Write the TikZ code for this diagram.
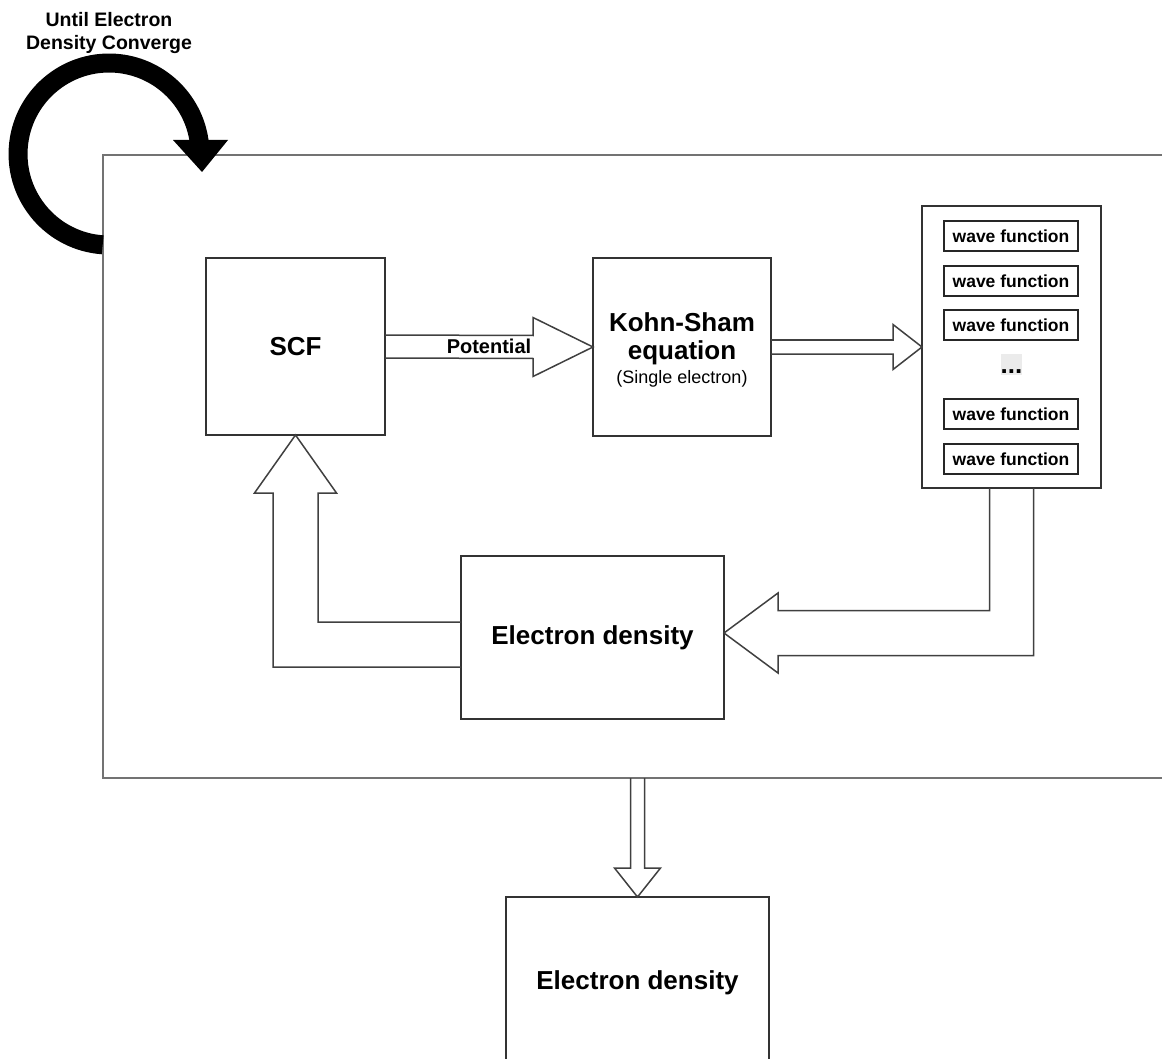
\documentclass[tikz,border=0pt]{standalone}
\usepackage{fontspec}
\setmainfont{Liberation Sans}
\usetikzlibrary{calc}
\begin{document}
\begin{tikzpicture}[x=1pt,y=-1pt,
  box/.style={draw=black!80, line width=1.5pt, inner sep=0pt, outer sep=0pt,
    anchor=north west, align=center, font=\fontsize{26}{28}\selectfont\bfseries},
  wfbox/.style={draw=black!85, line width=1.5pt, inner sep=0pt, outer sep=0pt,
    anchor=north west, minimum width=134pt, minimum height=30pt,
    font=\fontsize{17.5}{20}\selectfont\bfseries},
  loopframe/.style={draw=black!55, line width=2pt, inner sep=0pt, outer sep=0pt,
    anchor=north west},
  blockarrow/.style={draw=black!75, line width=1.5pt, line join=miter},
]
\useasboundingbox (0,0) rectangle (1162,1059);

% iteration frame (runs off the right edge)
\node[loopframe, minimum width=1120pt, minimum height=623pt] (loop) at (103,155) {};

% main blocks
\node[box, minimum width=179pt, minimum height=177pt] (scf) at (206,258) {SCF};
\node[box, minimum width=178pt, minimum height=178pt] (ks) at (593,258)
  {\rule{0pt}{25pt}Kohn-Sham\\equation\\[-4pt]{\fontsize{18}{21}\mdseries\selectfont (Single electron)}};
\node[box, minimum width=179pt, minimum height=282pt] (wv) at (922,206) {};
\node[wfbox] (wf1) at (944,221) {wave function};
\node[wfbox] (wf2) at (944,266) {wave function};
\node[wfbox] (wf3) at (944,310) {wave function};
\node[fill=black!8, inner sep=0pt, text height=19pt, text depth=2pt,
  font=\fontsize{26}{28}\selectfont\bfseries, anchor=base] (dots) at (1011.5,373) {...};
\node[wfbox] (wf4) at (944,399) {wave function};
\node[wfbox] (wf5) at (944,444) {wave function};
\node[box, minimum width=263pt, minimum height=163pt] (ed) at (461,556) {Electron density};
\node[box, minimum width=263pt, minimum height=172pt] (out) at (506,897) {Electron density};

% SCF -> Kohn-Sham
\draw[blockarrow] ($(scf.east)+(0,-11.5)$) -- ($(ks.west)+(-60,-11.5)$)
  -- ($(ks.west)+(-60,-29.5)$) -- (ks.west) -- ($(ks.west)+(-60,29.5)$)
  -- ($(ks.west)+(-60,11.5)$) -- ($(scf.east)+(0,11.5)$);
\node[font=\fontsize{20}{22}\selectfont\bfseries] (pot) at ($(scf.east)!0.5!(ks.west)$) {Potential};

% Kohn-Sham -> wave functions
\draw[blockarrow] ($(ks.east)+(0,-7)$) -- ($(wv.west)+(-29,-7)$)
  -- ($(wv.west)+(-29,-22.5)$) -- (wv.west) -- ($(wv.west)+(-29,22.5)$)
  -- ($(wv.west)+(-29,7)$) -- ($(ks.east)+(0,7)$);

% wave functions -> electron density
\coordinate (edtip) at ($(ed.east)+(0,-4.5)$);
\draw[blockarrow] ($(wv.south)+(-22,0)$) |- ($(edtip)+(54,-22.5)$)
  -- ($(edtip)+(54,-40)$) -- (edtip) -- ($(edtip)+(54,40)$)
  -- ($(edtip)+(54,22.5)$) -| ($(wv.south)+(22,0)$);

% electron density -> SCF
\draw[blockarrow] ($(ed.west)+(0,-15.5)$) -| ($(scf.south)+(22.5,58)$)
  -- ($(scf.south)+(41,58)$) -- (scf.south) -- ($(scf.south)+(-41,58)$)
  -- ($(scf.south)+(-22.5,58)$) |- ($(ed.west)+(0,29.5)$);

% frame -> final electron density
\draw[blockarrow] ($(out.north |- loop.south)+(-7,0)$) -- ($(out.north)+(-7,-29)$)
  -- ($(out.north)+(-23,-29)$) -- (out.north) -- ($(out.north)+(23,-29)$)
  -- ($(out.north)+(7,-29)$) -- ($(out.north |- loop.south)+(7,0)$);

% loop arrow
\coordinate (loopin) at (102.7,244.8);
\draw[line width=19pt] (loopin) arc[start angle=266, end angle=8, radius=91pt];
\fill (173,140) -- (228,140) -- (202,172) -- cycle;
\node[font=\fontsize{19.5}{23.5}\selectfont\bfseries, align=center] (until) at (109,33)
  {Until Electron\\Density Converge};
\end{tikzpicture}
\end{document}
